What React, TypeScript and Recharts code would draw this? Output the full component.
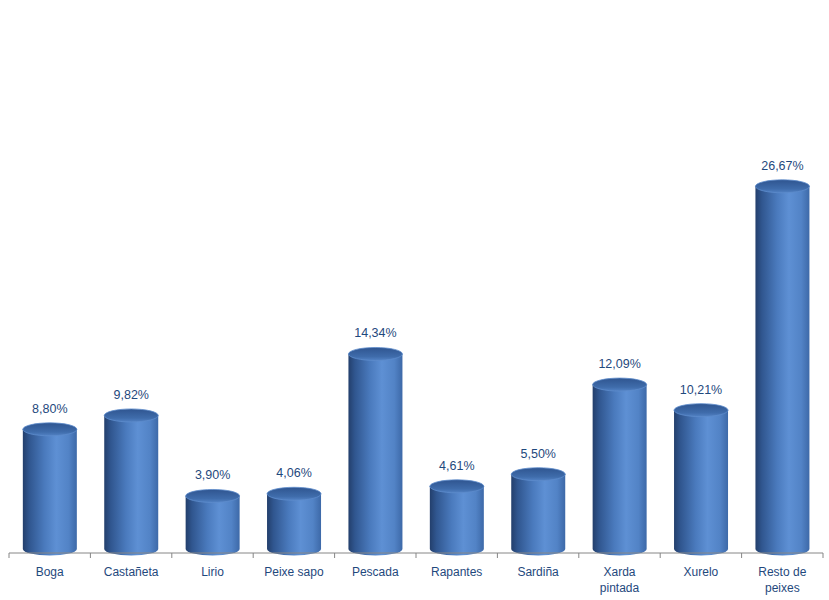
import React from 'react';
import { BarChart, Bar, XAxis, YAxis, LabelList } from 'recharts';

const categories = ['Boga', 'Castañeta', 'Lirio', 'Peixe sapo', 'Pescada', 'Rapantes', 'Sardiña', 'Xarda\npintada', 'Xurelo', 'Resto de\npeixes'];
const shares = [8.8, 9.82, 3.9, 4.06, 14.34, 4.61, 5.5, 12.09, 10.21, 26.67];

const data = categories.map((name, i) => ({ name, value: shares[i] }));

const TEXT = '#1F497D';
const FONT = '"Liberation Sans", Arial, sans-serif';
const BAND = 81.4;

const fmt = (v: number) => v.toFixed(2).replace('.', ',') + '%';

const CylinderBar = (props: any) => {
  const { x, y, width, height } = props;
  const lift = 4;
  const rx = width / 2;
  const ry = 6.5;
  const top = y - lift;
  const bottom = y + height - lift;
  return (
    <g>
      <path
        d={`M${x},${top} L${x},${bottom} A${rx},${ry} 0 0 0 ${x + width},${bottom} L${x + width},${top} Z`}
        fill="url(#cylBody)"
      />
      <ellipse cx={x + rx} cy={top} rx={rx} ry={ry} fill="url(#cylTop)" stroke="#5d8ccc" strokeWidth={0.8} />
    </g>
  );
};

const ValueLabel = (props: any) => {
  const { x, y, width, value } = props;
  return (
    <text x={x + width / 2} y={y - 20.5} textAnchor="middle" fontSize={12.5} fontFamily={FONT} fill={TEXT}>
      {fmt(value)}
    </text>
  );
};

const CategoryTick = (props: any) => {
  const { x, y, payload, index } = props;
  const lines = String(payload.value).split('\n');
  return (
    <g>
      <line x1={x - BAND / 2} x2={x - BAND / 2} y1={y} y2={y + 5} stroke="#868686" />
      {index === categories.length - 1 && (
        <line x1={x + BAND / 2} x2={x + BAND / 2} y1={y} y2={y + 5} stroke="#868686" />
      )}
      <text x={x} y={y + 23} textAnchor="middle" fontSize={12} fontFamily={FONT} fill={TEXT}>
        {lines.map((l, i) => (
          <tspan key={i} x={x} dy={i === 0 ? 0 : 16}>{l}</tspan>
        ))}
      </text>
    </g>
  );
};

export default function App() {
  return (
    <div style={{ position: 'absolute', left: 0, top: 0, background: '#fff' }}>
      <BarChart width={829} height={600} data={data} margin={{ top: 9, right: 6, left: 9, bottom: 7 }} barCategoryGap="17%">
        <defs>
          <linearGradient id="cylBody" x1="0" y1="0" x2="1" y2="0">
            <stop offset="0%" stopColor="#233f6c" />
            <stop offset="12%" stopColor="#30568f" />
            <stop offset="40%" stopColor="#4a7abd" />
            <stop offset="62%" stopColor="#5e90d4" />
            <stop offset="85%" stopColor="#5283c6" />
            <stop offset="100%" stopColor="#3d69a8" />
          </linearGradient>
          <linearGradient id="cylTop" x1="0" y1="0" x2="0" y2="1">
            <stop offset="0%" stopColor="#2f5590" />
            <stop offset="70%" stopColor="#3f6cab" />
            <stop offset="100%" stopColor="#5282c4" />
          </linearGradient>
        </defs>
        <XAxis
          dataKey="name"
          height={40}
          interval={0}
          tickLine={false}
          tickSize={0}
          tickMargin={0}
          axisLine={{ stroke: '#868686' }}
          tick={<CategoryTick />}
        />
        <YAxis hide domain={[0, 40]} />
        <Bar dataKey="value" shape={<CylinderBar />} isAnimationActive={false}>
          <LabelList dataKey="value" content={<ValueLabel />} />
        </Bar>
      </BarChart>
    </div>
  );
}
